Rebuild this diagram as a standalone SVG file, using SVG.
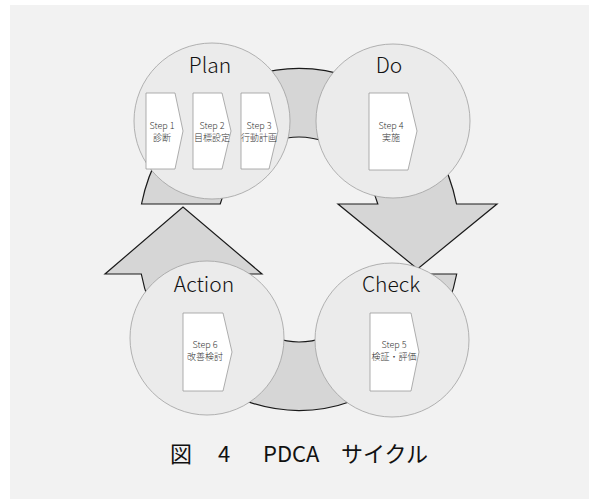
<svg xmlns="http://www.w3.org/2000/svg" width="589" height="499" viewBox="0 0 589 499">
<style>
.ring{fill:#d6d6d6;stroke:#1a1a1a;stroke-width:1.2;stroke-linejoin:miter}
.disc{fill:#ebebeb;stroke:#a0a0a0;stroke-width:0.8}
.box{fill:#ffffff;stroke:#9a9a9a;stroke-width:0.8}
.title{font-family:"Noto Sans CJK JP","Liberation Sans",sans-serif;font-size:21px;font-weight:300;fill:#111;text-anchor:middle}
.step{font-family:"Noto Sans CJK JP","Liberation Sans",sans-serif;font-size:9px;font-weight:300;fill:#333;text-anchor:middle}
.cap{font-family:"Noto Sans CJK JP","Liberation Sans",sans-serif;font-size:22px;fill:#111}
</style>
<rect x="0" y="0" width="589" height="499" fill="#ffffff"/>
<rect x="10" y="5" width="579" height="494" fill="#f2f2f2"/>
<g id="connectors">
<path class="ring" d="M141.5,204 A161,171 0 0 1 456.5,204 L497,204 L417.5,269 L338,204 L377.8,204 A84,102.5 0 0 0 220.2,204 Z"/>
<path class="ring" d="M456.7,274 A161,171 0 0 1 141.3,274 L105,274 L183,207 L262,274 L219.9,274 A84,102.5 0 0 0 378.1,274 Z"/>
</g>
<g id="plan">
<circle class="disc" cx="212" cy="121" r="78"/>
<text class="title" x="210" y="73">Plan</text>
<path class="box" d="M146,93 H175 L183,131 L175,169 H146 Z"/>
<text class="step" x="162" y="129">Step 1</text>
<text class="step" x="162" y="141">診断</text>
<path class="box" d="M193,93 H222 L231,131 L222,169 H193 Z"/>
<text class="step" x="212" y="129">Step 2</text>
<text class="step" x="212" y="141">目標設定</text>
<path class="box" d="M241,93 H269 L278,131 L269,169 H241 Z"/>
<text class="step" x="259" y="129">Step 3</text>
<text class="step" x="259" y="141">行動計画</text>
</g>
<g id="do">
<circle class="disc" cx="393" cy="121" r="77"/>
<text class="title" x="389" y="73">Do</text>
<path class="box" d="M369,93 H408 L417,131 L408,170 H369 Z"/>
<text class="step" x="391" y="129">Step 4</text>
<text class="step" x="391" y="141">実施</text>
</g>
<g id="action">
<circle class="disc" cx="207" cy="338" r="77"/>
<text class="title" x="204" y="292">Action</text>
<path class="box" d="M183,313 H223 L232,352 L223,391 H183 Z"/>
<text class="step" x="205" y="348">Step 6</text>
<text class="step" x="205" y="360">改善検討</text>
</g>
<g id="check">
<circle class="disc" cx="392" cy="340" r="77"/>
<text class="title" x="391" y="292">Check</text>
<path class="box" d="M370,313 H411 L419,352 L411,391 H370 Z"/>
<text class="step" x="394" y="348">Step 5</text>
<text class="step" x="394" y="360">検証・評価</text>
</g>
<g id="caption">
<text class="cap" y="462"><tspan x="170">図</tspan><tspan x="218">4</tspan><tspan x="263">PDCA</tspan><tspan x="341">サイクル</tspan></text>
</g>
</svg>
